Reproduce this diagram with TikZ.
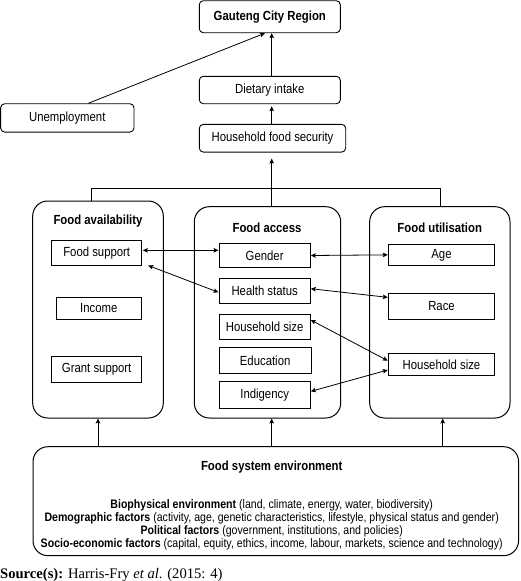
\documentclass[tikz,border=0pt]{standalone}
\usepackage{fontspec}
\setmainfont{Liberation Sans}[FakeStretch=0.86]
\newfontfamily\srcfont{Liberation Serif}
\usetikzlibrary{arrows.meta}
\tikzset{
  rbox/.style={draw, rounded corners=4pt, line width=0.9pt, inner sep=0pt},
  bigbox/.style={draw, rounded corners=15pt, line width=1pt, inner sep=0pt},
  ibox/.style={draw, line width=1pt, inner sep=0pt},
  tip/.tip={Stealth[length=5pt,width=4.5pt,inset=1pt]},
  arr/.style={-tip, line width=0.8pt},
  darr/.style={tip-tip, line width=0.8pt},
  conn/.style={line width=0.8pt},
  ttl/.style={font=\fontsize{13.2}{15}\selectfont\bfseries, inner sep=0pt},
  envtxt/.style={font=\fontsize{12.3}{13.1}\selectfont, align=center, inner sep=0pt}
}
\begin{document}
\begin{tikzpicture}[x=1pt,y=-1pt, font=\fontsize{13.2}{15}\selectfont]
\useasboundingbox (0,0) rectangle (520,581);
% top chain
\node[rbox, minimum width=141pt, minimum height=32pt, font=\fontsize{13.2}{15}\selectfont\bfseries] (gcr) at (269.8,16.7) {Gauteng City Region};
\node[rbox, minimum width=141pt, minimum height=27.4pt] (diet) at (269.8,90) {Dietary intake};
\node[rbox, minimum width=133.3pt, minimum height=28.3pt] (unemp) at (67.3,117.9) {Unemployment};
\node[rbox, minimum width=146.4pt, minimum height=27.7pt] (hfs) at (272.5,138.2) {Household food security};
\coordinate (mx) at (271.7,0);
\draw[arr] (diet.north -| mx) -- (gcr.south -| mx);
\draw[arr, shorten >=2pt] (hfs.north -| mx) -- (diet.south -| mx);
\draw[arr] ([xshift=21pt]unemp.north) -- ([xshift=-4.8pt]gcr.south);
% pillars
\node[bigbox, minimum width=130.6pt, minimum height=217pt] (avail) at (98,309.5) {};
\node[bigbox, minimum width=146.4pt, minimum height=211.3pt] (access) at (267.5,312.35) {};
\node[bigbox, minimum width=140.3pt, minimum height=211.3pt] (util) at (439.85,312.35) {};
\node[ttl] (tavail) at (98,221) {Food availability};
\node[ttl] (taccess) at (267,227.3) {Food access};
\node[ttl] (tutil) at (439.7,227.3) {Food utilisation};
% junction
\coordinate (j1) at (91.7,188.3);
\coordinate (j2) at (271.7,188.3);
\coordinate (j3) at (440.3,188.3);
\draw[conn] (j1) -- (j3);
\draw[conn] (j1) -- (j1 |- avail.north);
\draw[conn] (j2) -- (j2 |- access.north);
\draw[conn] (j3) -- (j3 |- util.north);
\draw[arr, shorten >=6pt] (j2) -- (hfs.south -| j2);
% inner boxes
\node[ibox, minimum width=90pt, minimum height=25pt] (fs) at (96.7,253.2) {Food support};
\node[ibox, minimum width=85.7pt, minimum height=22pt] (inc) at (98.85,308.3) {Income};
\node[ibox, minimum width=90pt, minimum height=25.7pt] (grant) at (96.7,369.2) {Grant support};
\node[ibox, minimum width=91.3pt, minimum height=24.4pt] (gender) at (264.65,255.5) {Gender};
\node[ibox, minimum width=91.3pt, minimum height=25pt] (health) at (264.65,290.8) {Health status};
\node[ibox, minimum width=91.3pt, minimum height=25.4pt] (hha) at (264.65,327) {Household size};
\node[ibox, minimum width=92.3pt, minimum height=25.6pt] (edu) at (265.15,360.5) {Education};
\node[ibox, minimum width=91.3pt, minimum height=26.3pt] (indig) at (264.65,394.85) {Indigency};
\node[ibox, minimum width=106.4pt, minimum height=21.7pt] (age) at (441.5,254.85) {Age};
\node[ibox, minimum width=106.4pt, minimum height=25.3pt] (race) at (441.5,306.35) {Race};
\node[ibox, minimum width=106.4pt, minimum height=22pt] (hhu) at (441.5,364.3) {Household size};
% links
\draw[darr] ([xshift=0.6pt,yshift=2.9pt]fs.east) -- ([yshift=5.2pt]gender.west);
\draw[darr] ([xshift=6pt,yshift=0.7pt]fs.south east) -- ([yshift=-1.5pt]health.west);
\draw[darr] (gender.east) -- (age.west);
\draw[darr] ([yshift=2.1pt]health.east) -- ([yshift=9pt]race.west);
\draw[darr] ([yshift=7pt]hha.east) -- ([yshift=3.6pt]hhu.west);
\draw[darr] ([yshift=3.5pt]indig.east) -- ([yshift=-5.7pt]hhu.west);
% environment
\node[bigbox, minimum width=485.6pt, minimum height=109pt] (env) at (275.8,501.2) {};
\coordinate (u1) at (98,0);
\coordinate (u2) at (271.7,0);
\coordinate (u3) at (442.7,0);
\draw[arr] (env.north -| u1) -- (avail.south -| u1);
\draw[arr] (env.north -| u2) -- (access.south -| u2);
\draw[arr] (env.north -| u3) -- (util.south -| u3);
\node[ttl] (tenv) at (271.7,466.7) {Food system environment};
\node[envtxt] (envlines) at (271.7,524.5) {\textbf{Biophysical environment} (land, climate, energy, water, biodiversity)\\
\textbf{Demographic factors} (activity, age, genetic characteristics, lifestyle, physical status and gender)\\
\textbf{Political factors} (government, institutions, and policies)\\
\textbf{Socio-economic factors} (capital, equity, ethics, income, labour, markets, science and technology)};
% source
\node[anchor=west, inner sep=0pt, font=\srcfont\fontsize{14.6}{16}\selectfont] (src) at (0,575) {\textbf{Source(s):} Harris-Fry \textit{et al}. (2015: 4)};
\end{tikzpicture}
\end{document}
